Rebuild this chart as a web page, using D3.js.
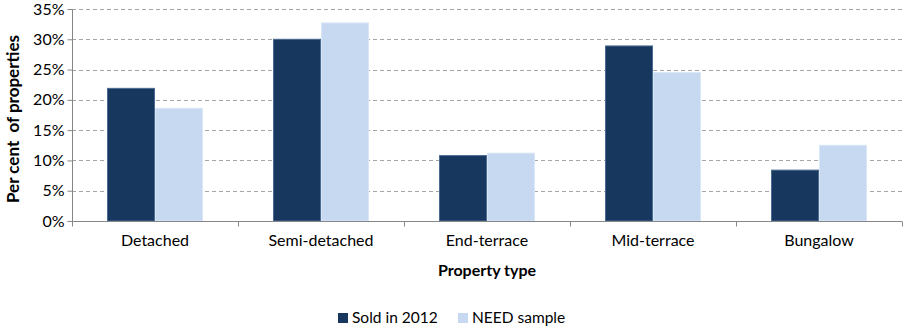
<!DOCTYPE html>
<html>
<head>
<meta charset="utf-8">
<script src="https://cdn.jsdelivr.net/npm/d3@7"></script>
<style>
  body { margin: 0; background: #fff; }
  text { font-family: Lato, "Open Sans", sans-serif; fill: #000; }
</style>
</head>
<body>
<div class="canvas"></div>
<script>
const width = 909;
const height = 328;

const categories = ['Detached', 'Semi-detached', 'End-terrace', 'Mid-terrace', 'Bungalow'];
const seriesNames = ['Sold in 2012', 'NEED sample'];
const sold2012 = [21.9, 30.0, 10.8, 28.9, 8.4];
const needSample = [18.6, 32.7, 11.2, 24.5, 12.5];
const yTicks = [0, 5, 10, 15, 20, 25, 30, 35];

const colors = ['#17375e', '#c6d9f1'];
const strokes = ['#4a6b92', '#d9e6f6'];

const margin = { top: 9, right: 7, bottom: 107, left: 72 };
const plotW = width - margin.left - margin.right;
const plotH = height - margin.top - margin.bottom;

const svg = d3
  .select('.canvas')
  .append('svg')
  .attr('width', width)
  .attr('height', height);

const g = svg.append('g').attr('transform', `translate(${margin.left},${margin.top})`);

// Scales
const xScale = d3.scaleBand().domain(categories).range([0, plotW]).padding(0);
// two bars fill ~58% of each category, centred
const inner = d3.scaleBand().domain(seriesNames).range([0, xScale.bandwidth()]).paddingInner(0).paddingOuter(0.73);
const yScale = d3.scaleLinear().domain([0, 35]).range([plotH, 0]);

// Gridlines
g.selectAll('line.grid')
  .data(yTicks.filter((t) => t > 0))
  .enter()
  .append('line')
  .attr('class', 'grid')
  .attr('x1', 0)
  .attr('x2', plotW)
  .attr('y1', (d) => Math.round(yScale(d)) + 0.5)
  .attr('y2', (d) => Math.round(yScale(d)) + 0.5)
  .style('stroke', '#a6a6a6')
  .style('stroke-dasharray', '4,3');

// Bars
const rows = categories.map((c, i) => ({ cat: c, values: [sold2012[i], needSample[i]] }));

g.selectAll('g.cat')
  .data(rows)
  .enter()
  .append('g')
  .attr('class', 'cat')
  .attr('transform', (d) => `translate(${xScale(d.cat)},0)`)
  .each(function (d) {
    d3.select(this)
      .selectAll('rect')
      .data(d.values.map((v, j) => ({ v, s: seriesNames[j], j })))
      .enter()
      .append('rect')
      .attr('x', (e) => inner(e.s) + 0.5)
      .attr('width', inner.bandwidth() - 1)
      .attr('y', (e) => yScale(e.v))
      .attr('height', (e) => plotH - yScale(e.v))
      .style('fill', (e) => colors[e.j])
      .style('stroke', (e) => strokes[e.j])
      .style('stroke-width', 1);
  });

// Y axis
const yAxis = d3.axisLeft(yScale).tickValues(yTicks).tickSize(5).tickPadding(3).tickFormat((d) => d + '%');
const yG = g.append('g').attr('transform', 'translate(0.5,0)').call(yAxis);
yG.selectAll('text').style('font-size', '16px').style('fill', '#000');
yG.selectAll('line').style('stroke', '#868686');
yG.select('.domain').style('stroke', '#868686').attr('d', `M0,0.5V${plotH}`);

// X axis
const xAxis = d3.axisBottom(xScale).tickSize(0).tickPadding(13);
const xG = g.append('g').attr('transform', `translate(0,${plotH + 0.5})`).call(xAxis);
xG.selectAll('text').style('font-size', '16px').style('fill', '#000');
xG.select('.domain').style('stroke', '#868686').attr('d', `M0,0H${plotW}`);
xG.selectAll('line.bound')
  .data(d3.range(categories.length + 1))
  .enter()
  .append('line')
  .attr('class', 'bound')
  .attr('x1', (i) => Math.round(i * xScale.step()) + 0.5)
  .attr('x2', (i) => Math.round(i * xScale.step()) + 0.5)
  .attr('y1', 0)
  .attr('y2', 5)
  .style('stroke', '#868686');

// Axis titles
svg.append('text')
  .attr('x', margin.left + plotW / 2)
  .attr('y', 276)
  .attr('text-anchor', 'middle')
  .style('font-size', '16px')
  .style('font-weight', 'bold')
  .text('Property type');

svg.append('text')
  .attr('transform', `translate(19,${margin.top + plotH / 2 + 4}) rotate(-90)`)
  .attr('text-anchor', 'middle')
  .style('font-size', '17px')
  .style('font-weight', 'bold')
  .style('white-space', 'pre')
  .text('Per cent  of properties');

// Legend
const legendX = [338, 458];
const legend = svg.selectAll('g.legend')
  .data(seriesNames)
  .enter()
  .append('g')
  .attr('class', 'legend')
  .attr('transform', (d, i) => `translate(${legendX[i]},313)`);

legend.append('rect')
  .attr('width', 10)
  .attr('height', 10)
  .style('fill', (d, i) => colors[i]);

legend.append('text')
  .attr('x', 14)
  .attr('y', 10)
  .style('font-size', '15.5px')
  .text((d) => d);
</script>
</body>
</html>
